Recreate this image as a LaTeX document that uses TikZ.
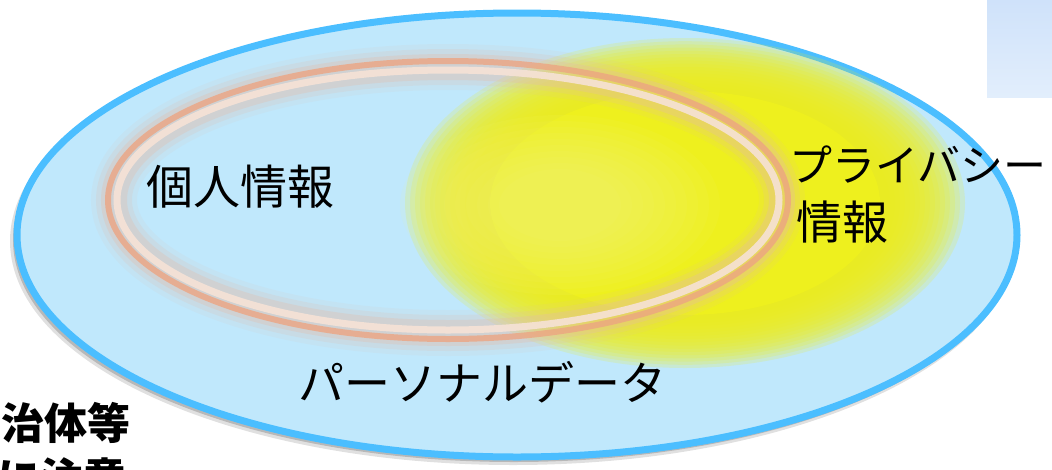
\documentclass[tikz,border=0pt]{standalone}
\usepackage{fontspec}
\newfontfamily\jpfont{Noto Sans CJK JP}
\definecolor{outerfill}{RGB}{192,232,252}
\definecolor{outerline}{RGB}{75,190,255}
\definecolor{ylw}{RGB}{238,240,30}
\definecolor{ylwlight}{RGB}{248,248,130}
\definecolor{peach}{RGB}{228,188,168}
\definecolor{ringorange}{RGB}{236,165,130}
\definecolor{ringwhite}{RGB}{246,226,214}
\definecolor{boxtop}{RGB}{207,226,250}
\definecolor{boxbot}{RGB}{226,238,252}
\begin{document}
\begin{tikzpicture}[x=1pt,y=-1pt,
  jp/.style={font=\jpfont\fontsize{46}{46}\selectfont, inner sep=0pt, anchor=base west},
  jpbig/.style={jp, font=\jpfont\fontsize{47}{47}\selectfont},
  jpsmall/.style={jp, font=\jpfont\fontsize{43}{43}\selectfont},
  jpb/.style={jp, font=\jpfont\bfseries\fontsize{43}{43}\selectfont},
  halo/.style={peach, line width=#1pt}]
\useasboundingbox (0,0) rectangle (1052,469);
\clip (0,0) rectangle (1052,469);
% top-right box
\shade[top color=boxtop, bottom color=boxbot] (987,0) rectangle (1052,97);
% outer ellipse shadow and body
\fill[black, opacity=0.12] (513,241) ellipse [x radius=503, y radius=224];
\fill[black, opacity=0.18] (514,240) ellipse [x radius=501, y radius=222];
\draw[line width=7pt, draw=outerline, fill=outerfill] (517,235) ellipse [x radius=500, y radius=222];
% yellow privacy blob (soft edge built from stacked translucent ellipses)
\foreach \i in {0,...,15}
  \fill[ylw, opacity=0.19] (685,203) ellipse [x radius={280-5*\i}, y radius={165-3.2*\i}];
\fill[ylw] (685,203) ellipse [x radius=195, y radius=112];
\foreach \i in {0,...,9}
  \fill[ylwlight, opacity=0.08] (560,205) ellipse [x radius={160-11*\i}, y radius={90-6*\i}];
% personal-information ring
\draw[halo=46, opacity=0.1] (448,200) ellipse [x radius=334, y radius=133];
\draw[halo=36, opacity=0.18] (448,200) ellipse [x radius=334, y radius=133];
\draw[halo=26, opacity=0.3] (448,200) ellipse [x radius=334, y radius=133];
\draw[ringorange, line width=6pt, opacity=0.8] (448,200) ellipse [x radius=340, y radius=139];
\draw[ringwhite, line width=7pt, opacity=0.9] (448,200) ellipse [x radius=331, y radius=130];
% texts
\node[jpbig] (kojin) at (146,204) {個人情報};
\node[jpsmall] (priv1) at (789,181) {プライバシー};
\node[jp] (priv2) at (796,239) {情報};
\node[jp] (pd) at (298,400) {パーソナルデータ};
\node[jpb] (jichi) at (1,439) {治体等};
\node[jpb] (chui) at (-3,494) {に注意};
\end{tikzpicture}
\end{document}
